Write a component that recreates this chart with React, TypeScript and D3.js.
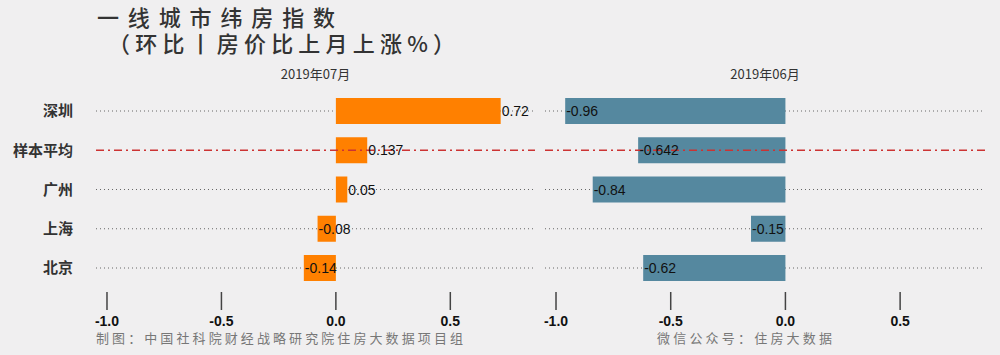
import React from 'react';
import * as d3 from 'd3';

const categories = ['深圳', '样本平均', '广州', '上海', '北京'];
const julValues = [0.72, 0.137, 0.05, -0.08, -0.14];
const junValues = [-0.96, -0.642, -0.84, -0.15, -0.62];
const valueLabels = [
  ['0.72', '0.137', '0.05', '-0.08', '-0.14'],
  ['-0.96', '-0.642', '-0.84', '-0.15', '-0.62'],
];
const panelTitles = ['2019年07月', '2019年06月'];
const tickValues = [-1.0, -0.5, 0.0, 0.5];
const tickLabels = ['-1.0', '-0.5', '0.0', '0.5'];
const averageCategory = '样本平均';

const W = 1000;
const H = 355;
const BG = '#f0eff0';
const ORANGE = '#ff8000';
const BLUE = '#55889f';
const CJK = '"Noto Sans CJK SC", sans-serif';
const SANS = '"Liberation Sans", Arial, sans-serif';

export default function App() {
  const panels = [
    { title: panelTitles[0], values: julValues, labels: valueLabels[0], color: ORANGE, range: [96, 535] as [number, number] },
    { title: panelTitles[1], values: junValues, labels: valueLabels[1], color: BLUE, range: [545, 985] as [number, number] },
  ];
  const domain: [number, number] = [-1.048, 0.87];
  const y = d3.scalePoint<string>().domain(categories).range([111, 268]);
  const barH = 26;

  return (
    <svg width={W} height={H} style={{ position: 'absolute', left: 0, top: 0, background: BG }}>
      <rect x={0} y={0} width={W} height={H} fill={BG} />
      <text x={97} y={26} fontFamily={CJK} fontSize={22} fontWeight={500} fill="#333" textLength={238} lengthAdjust="spacing">
        一线城市纬房指数
      </text>
      <text x={108} y={52} fontFamily={CJK} fontSize={22} fontWeight={500} fill="#333" textLength={347} lengthAdjust="spacing">
        （环比丨房价比上月上涨%）
      </text>
      {categories.map((c) => (
        <text key={c} x={73} y={y(c)!} dy="0.35em" textAnchor="end" fontFamily={CJK} fontWeight="bold" fontSize={15} fill="#333">
          {c}
        </text>
      ))}
      {panels.map((p, pi) => {
        const x = d3.scaleLinear().domain(domain).range(p.range);
        const x0 = x(0);
        return (
          <g key={pi}>
            <text x={(p.range[0] + p.range[1]) / 2} y={79} textAnchor="middle" fontFamily={CJK} fontSize={13} fill="#333">
              {p.title}
            </text>
            {categories.map((c) =>
              c === averageCategory ? null : (
                <line key={c} x1={p.range[0]} x2={p.range[1]} y1={y(c)!} y2={y(c)!} stroke="#666" strokeWidth={1} strokeDasharray="1,3" />
              )
            )}
            {categories.map((c, i) => {
              const v = p.values[i];
              const xv = x(v);
              return (
                <rect key={c} x={Math.min(x0, xv)} y={y(c)! - barH / 2} width={Math.abs(xv - x0)} height={barH} fill={p.color} />
              );
            })}
            <line
              x1={p.range[0]}
              x2={p.range[1]}
              y1={y(averageCategory)!}
              y2={y(averageCategory)!}
              stroke="#cc3333"
              strokeWidth={1.6}
              strokeDasharray="8,4,2,4"
            />
            {categories.map((c, i) => (
              <text key={c} x={x(p.values[i]) + 1} y={y(c)!} dy="0.36em" fontFamily={SANS} fontSize={14} fill="#111">
                {p.labels[i]}
              </text>
            ))}
            {tickValues.map((t, i) => (
              <g key={t}>
                <line x1={x(t)} x2={x(t)} y1={292} y2={310} stroke="#444" strokeWidth={1.5} />
                <text x={x(t)} y={326} textAnchor="middle" fontFamily={SANS} fontWeight="bold" fontSize={14} fill="#111">
                  {tickLabels[i]}
                </text>
              </g>
            ))}
          </g>
        );
      })}
      <text x={96} y={343} fontFamily={CJK} fontSize={13} fill="#777" textLength={367} lengthAdjust="spacing">
        制图：中国社科院财经战略研究院住房大数据项目组
      </text>
      <text x={657} y={343} fontFamily={CJK} fontSize={13} fill="#777" textLength={175} lengthAdjust="spacing">
        微信公众号：住房大数据
      </text>
    </svg>
  );
}
